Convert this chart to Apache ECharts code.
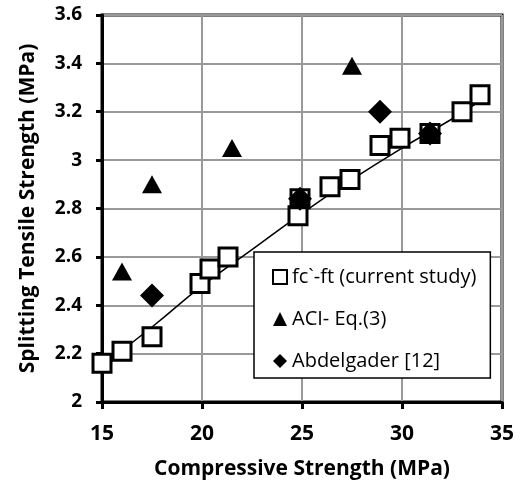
<!DOCTYPE html>
<html>
<head>
<meta charset="utf-8">
<script src="https://cdn.jsdelivr.net/npm/echarts@6/dist/echarts.min.js"></script>
<style>
  html, body { margin: 0; padding: 0; background: #fff; }
  #chart { width: 530px; height: 491px; }
</style>
</head>
<body>
<div id="chart"></div>
<script>
// fc'-ft points from the current study
var studyFc = [15.0, 16.0, 17.5, 19.9, 20.4, 21.3, 24.8, 24.9, 26.4, 27.4, 28.9, 29.9, 31.4, 33.0, 33.9];
var studyFt = [2.16, 2.21, 2.27, 2.49, 2.55, 2.60, 2.77, 2.84, 2.89, 2.92, 3.06, 3.09, 3.11, 3.20, 3.27];

var aciFc = [16.0, 17.5, 21.5, 24.9, 27.5, 31.4];
var aciFt = [2.54, 2.90, 3.05, 2.84, 3.39, 3.11];

var abdFc = [17.5, 24.9, 28.9, 31.4];
var abdFt = [2.44, 2.84, 3.20, 3.11];

// trend line
var trendFc = [15, 17.5, 20, 22.5, 25, 27.5, 30, 32.5, 34];
var trendFt = [2.15, 2.31, 2.48, 2.63, 2.78, 2.92, 3.05, 3.17, 3.25];

function pairs(xs, ys) {
  return xs.map(function (x, i) { return [x, ys[i]]; });
}

var font = "'Open Sans', 'Liberation Sans', sans-serif";

var myChart = echarts.init(document.getElementById("chart"));

var option = {
  animation: false,
  grid: { left: 102, right: 28, top: 15, bottom: 89, show: true, borderColor: "#000", borderWidth: 3 },
  legend: {
    orient: "vertical",
    left: 254,
    top: 252,
    padding: [15, 14, 7, 18],
    itemGap: 22,
    itemWidth: 14,
    itemHeight: 14,
    borderColor: "#000",
    borderWidth: 1.5,
    backgroundColor: "#fff",
    textStyle: { fontFamily: font, fontSize: 20, lineHeight: 20, color: "#000" },
    data: ["fc`-ft (current study)", "ACI- Eq.(3)", "Abdelgader [12]"]
  },
  xAxis: {
    type: "value",
    min: 15,
    max: 35,
    interval: 5,
    name: "Compressive Strength (MPa)",
    nameLocation: "middle",
    nameGap: 57,
    nameTextStyle: { fontFamily: font, fontSize: 21, fontWeight: "bold", color: "#000" },
    axisLine: { show: true, lineStyle: { color: "#000", width: 3 } },
    axisTick: { show: true, length: 7, lineStyle: { color: "#000", width: 3 } },
    axisLabel: { fontFamily: font, fontSize: 21, fontWeight: "bold", color: "#000", margin: 22 },
    splitLine: { lineStyle: { color: "#999", width: 2 } }
  },
  yAxis: {
    type: "value",
    min: 2,
    max: 3.6,
    interval: 0.2,
    name: "Splitting Tensile Strength (MPa)",
    nameLocation: "middle",
    nameGap: 63,
    nameTextStyle: { fontFamily: font, fontSize: 21, fontWeight: "bold", color: "#000" },
    axisLine: { show: true, lineStyle: { color: "#000", width: 3 } },
    axisTick: { show: true, length: 6, lineStyle: { color: "#000", width: 3 } },
    axisLabel: { fontFamily: font, fontSize: 19, fontWeight: "bold", color: "#000", margin: 20,
      formatter: function (v) { return String(Math.round(v * 10) / 10); } },
    splitLine: { lineStyle: { color: "#999", width: 2 } }
  },
  series: [
    {
      name: "trend",
      type: "line",
      data: pairs(trendFc, trendFt),
      smooth: true,
      showSymbol: false,
      lineStyle: { color: "#000", width: 1.5 },
      z: 1
    },
    {
      name: "fc`-ft (current study)",
      type: "scatter",
      symbol: "rect",
      symbolSize: 18,
      data: pairs(studyFc, studyFt),
      itemStyle: { color: "#fff", borderColor: "#000", borderWidth: 3, opacity: 1 },
      z: 2
    },
    {
      name: "ACI- Eq.(3)",
      type: "scatter",
      symbol: "triangle",
      symbolSize: [20, 18],
      data: pairs(aciFc, aciFt),
      itemStyle: { color: "#000", opacity: 1 },
      z: 3
    },
    {
      name: "Abdelgader [12]",
      type: "scatter",
      symbol: "diamond",
      symbolSize: 24,
      data: pairs(abdFc, abdFt),
      itemStyle: { color: "#000", opacity: 1 },
      z: 4
    }
  ]
};

myChart.setOption(option);
</script>
</body>
</html>
